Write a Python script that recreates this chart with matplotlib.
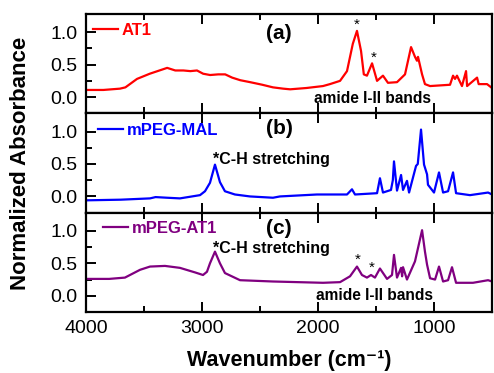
import matplotlib
matplotlib.use("Agg")
import matplotlib.pyplot as plt
import numpy as np

plt.rcParams['font.family'] = ['Liberation Sans', 'DejaVu Sans']

# ---- data (wavenumber cm^-1, normalized absorbance) ----
at1_wn = [4000, 3850, 3707, 3660, 3560, 3450, 3300, 3230, 3160, 3100, 3043, 2990, 2930, 2860,
          2800, 2740, 2670, 2585, 2480, 2388, 2300, 2240, 2100, 1957, 1897, 1810, 1750, 1700,
          1664, 1629, 1605, 1578, 1534, 1491, 1440, 1397, 1319, 1250, 1198, 1164, 1147, 1138,
          1103, 1078, 1034, 862, 836, 819, 802, 759, 724, 715, 629, 615, 543, 500]
at1_abs = [0.11, 0.11, 0.13, 0.15, 0.28, 0.36, 0.45, 0.41, 0.41, 0.40, 0.41, 0.36, 0.34, 0.35,
           0.35, 0.30, 0.26, 0.23, 0.19, 0.15, 0.13, 0.12, 0.14, 0.17, 0.20, 0.25, 0.40, 0.82,
           1.02, 0.71, 0.35, 0.33, 0.52, 0.25, 0.33, 0.22, 0.23, 0.35, 0.77, 0.62, 0.56, 0.62,
           0.35, 0.20, 0.17, 0.19, 0.33, 0.28, 0.33, 0.17, 0.40, 0.17, 0.30, 0.20, 0.20, 0.14]

mal_wn = [4000, 3700, 3448, 3400, 3300, 3190, 3017, 2974, 2931, 2888, 2845, 2802, 2716, 2586,
          2388, 2328, 2009, 1750, 1707, 1681, 1491, 1466, 1440, 1371, 1355, 1345, 1319, 1284,
          1267, 1233, 1215, 1155, 1140, 1112, 1086, 1060, 1052, 1000, 957, 922, 879, 836, 810,
          690, 534, 500]
mal_abs = [-0.06, -0.05, -0.03, -0.01, -0.02, -0.03, 0.02, 0.08, 0.21, 0.49, 0.22, 0.08, 0.03, 0.00,
           -0.02, 0.00, 0.03, 0.03, 0.11, 0.03, 0.05, 0.28, 0.06, 0.10, 0.25, 0.54, 0.09, 0.33,
           0.10, 0.24, 0.06, 0.47, 0.50, 1.03, 0.49, 0.34, 0.18, 0.06, 0.37, 0.06, 0.08, 0.37, 0.05,
           0.02, 0.06, 0.03]

mat_wn = [4000, 3800, 3664, 3534, 3448, 3319, 3190, 3060, 2991, 2957, 2931, 2888, 2845, 2802,
          2672, 2388, 1957, 1810, 1724, 1664, 1621, 1578, 1543, 1509, 1466, 1405, 1362, 1345,
          1319, 1284, 1275, 1267, 1233, 1164, 1103, 1078, 1060, 1034, 991, 957, 922, 879, 845,
          810, 664, 534, 500]
mat_abs = [0.26, 0.26, 0.28, 0.40, 0.45, 0.46, 0.43, 0.36, 0.32, 0.37, 0.50, 0.68, 0.50, 0.35,
           0.24, 0.22, 0.20, 0.21, 0.30, 0.45, 0.32, 0.28, 0.32, 0.28, 0.42, 0.26, 0.32, 0.63,
           0.28, 0.43, 0.30, 0.44, 0.25, 0.53, 1.01, 0.68, 0.48, 0.27, 0.25, 0.45, 0.22, 0.24, 0.44,
           0.20, 0.20, 0.24, 0.22]

series = [
    ("AT1", at1_wn, at1_abs, "#ff0000", "(a)"),
    ("mPEG-MAL", mal_wn, mal_abs, "#0000ff", "(b)"),
    ("mPEG-AT1", mat_wn, mat_abs, "#800080", "(c)"),
]
xticks = [4000, 3000, 2000, 1000]
yticks = [0.0, 0.5, 1.0]

fig = plt.figure(figsize=(4.94, 3.73), dpi=100)
gs = fig.add_gridspec(3, 1, left=0.174, right=0.996, bottom=0.1635, top=0.9625, hspace=0)
axes = [fig.add_subplot(gs[i]) for i in range(3)]

leg_anchor = [(0.017, 0.91), (0.03, 0.90), (0.042, 0.92)]
label_y = [0.98, 1.05, 1.03]

for i, (ax, (name, wn, ab, col, lab)) in enumerate(zip(axes, series)):
    ln, = ax.plot(wn, ab, color=col, lw=1.6, label=name)
    ax.set_xlim(4000, 500)
    ax.set_ylim(-0.25, 1.28)
    ax.set_yticks(yticks)
    ax.set_yticks([0.25, 0.75], minor=True)
    ax.set_xticks(xticks)
    ax.set_xticks([3500, 2500, 1500, 500], minor=True)
    ax.tick_params(axis='both', which='major', direction='in', length=7, width=1.4,
                   labelsize=14, top=True, right=False, pad=6)
    ax.tick_params(axis='both', which='minor', direction='in', length=4, width=1.4,
                   top=True, right=False)
    for sp in ax.spines.values():
        sp.set_linewidth(1.6)
    if i < 2:
        ax.tick_params(axis='x', which='both', labelbottom=False)
    leg = ax.legend(handles=[ln], loc='upper left', bbox_to_anchor=leg_anchor[i],
                    frameon=False, borderaxespad=0, borderpad=0, handlelength=1.5,
                    handletextpad=0.25, prop={'weight': 'bold', 'size': 12})
    for t in leg.get_texts():
        t.set_color(col)
    ax.text(2336, label_y[i], lab, fontsize=15, fontweight='bold', ha='center', va='center')

# annotations
axes[0].text(1664, 1.05, "*", fontsize=11, ha='center', va='baseline')
axes[0].text(1517, 0.54, "*", fontsize=11, ha='center', va='baseline')
axes[0].text(1526, -0.02, "amide I-II bands", fontsize=11.2, fontweight='bold', ha='center', va='center')
axes[1].text(2905, 0.50, "*C-H stretching", fontsize=11.5, fontweight='bold', ha='left', va='baseline')
axes[2].text(2905, 0.66, "*C-H stretching", fontsize=11.5, fontweight='bold', ha='left', va='baseline')
axes[2].text(1655, 0.50, "*", fontsize=11, ha='center', va='baseline')
axes[2].text(1534, 0.37, "*", fontsize=11, ha='center', va='baseline')
axes[2].text(1509, 0.01, "amide I-II bands", fontsize=11.2, fontweight='bold', ha='center', va='center')

axes[2].set_xlabel("Wavenumber (cm\u207b\u00b9)", fontsize=15.5, fontweight='bold', labelpad=9)
fig.text(0.042, 0.563, "Normalized Absorbance", rotation=90, fontsize=16, fontweight='bold',
         ha='center', va='center')

fig.savefig("out.png", dpi=100)
